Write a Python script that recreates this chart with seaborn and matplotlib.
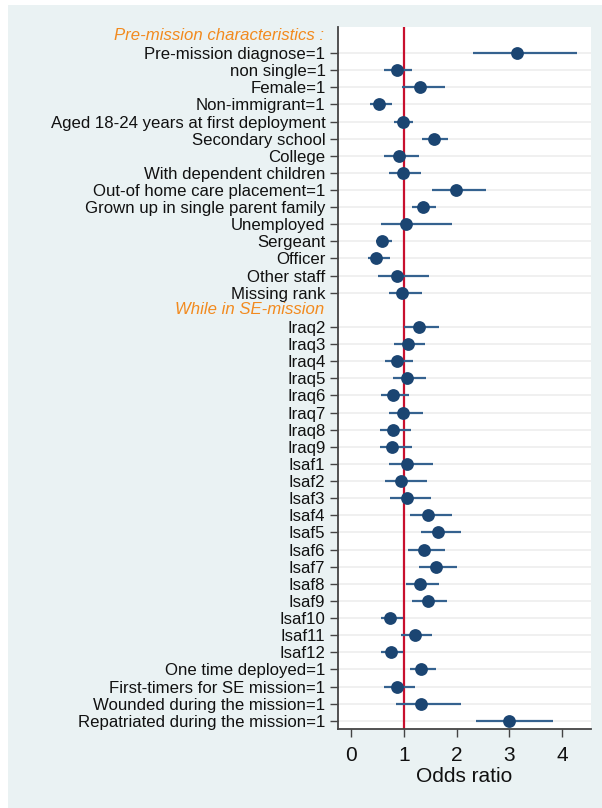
import matplotlib
matplotlib.use("Agg")
import matplotlib.pyplot as plt
from matplotlib.patches import Rectangle
import numpy as np
import pandas as pd
import seaborn as sns

# Section headers
header_pre = "Pre-mission characteristics :"
header_mis = "While in SE-mission"

# Pre-mission characteristics: odds ratios with 95% CI
labels_pre = [
    "Pre-mission diagnose=1", "non single=1", "Female=1", "Non-immigrant=1",
    "Aged 18-24 years at first deployment", "Secondary school", "College",
    "With dependent children", "Out-of home care placement=1",
    "Grown up in single parent family", "Unemployed", "Sergeant", "Officer",
    "Other staff", "Missing rank",
]
or_pre = [3.14, 0.86, 1.30, 0.52, 0.98, 1.57, 0.90, 0.99, 1.98, 1.36, 1.04, 0.59, 0.47, 0.86, 0.97]
lo_pre = [2.31, 0.63, 0.97, 0.35, 0.81, 1.35, 0.63, 0.72, 1.54, 1.16, 0.56, 0.47, 0.31, 0.51, 0.71]
hi_pre = [4.29, 1.15, 1.78, 0.78, 1.18, 1.83, 1.28, 1.33, 2.55, 1.60, 1.92, 0.77, 0.73, 1.47, 1.35]

# While in SE-mission
labels_mis = [
    "Iraq2", "Iraq3", "Iraq4", "Iraq5", "Iraq6", "Iraq7", "Iraq8", "Iraq9",
    "Isaf1", "Isaf2", "Isaf3", "Isaf4", "Isaf5", "Isaf6", "Isaf7", "Isaf8",
    "Isaf9", "Isaf10", "Isaf11", "Isaf12",
    "One time deployed=1", "First-timers for SE mission=1",
    "Wounded during the mission=1", "Repatriated during the mission=1",
]
or_mis = [1.28, 1.07, 0.87, 1.06, 0.79, 0.99, 0.79, 0.78,
          1.05, 0.95, 1.05, 1.45, 1.64, 1.39, 1.60, 1.31, 1.45, 0.73, 1.21, 0.75,
          1.33, 0.87, 1.33, 3.00]
lo_mis = [1.00, 0.81, 0.64, 0.80, 0.57, 0.72, 0.55, 0.54,
          0.72, 0.64, 0.74, 1.12, 1.32, 1.08, 1.28, 1.04, 1.16, 0.57, 0.95, 0.57,
          1.12, 0.63, 0.85, 2.36]
hi_mis = [1.67, 1.41, 1.18, 1.42, 1.09, 1.36, 1.14, 1.15,
          1.55, 1.43, 1.51, 1.91, 2.08, 1.78, 2.01, 1.66, 1.81, 0.99, 1.54, 0.99,
          1.60, 1.21, 2.08, 3.82]

x_ticks = [0, 1, 2, 3, 4]
x_label = "Odds ratio"

sns.set_theme(style="white")
plt.rcParams["font.family"] = ["Liberation Sans", "DejaVu Sans"]

# Row positions: header row, then its items, for each section
pos_pre = list(range(1, 1 + len(labels_pre)))
pos_hdr_mis = pos_pre[-1] + 1
pos_mis = list(range(pos_hdr_mis + 1, pos_hdr_mis + 1 + len(labels_mis)))

df = pd.DataFrame({
    "label": labels_pre + labels_mis,
    "pos": pos_pre + pos_mis,
    "or": or_pre + or_mis,
    "lo": lo_pre + lo_mis,
    "hi": hi_pre + hi_mis,
})

W, H = 602, 808
fig = plt.figure(figsize=(W / 100, H / 100), dpi=100, facecolor="white")
fig.patches.append(Rectangle((8 / W, 0), 1 - 8 / W, 1 - 5 / H,
                             transform=fig.transFigure, facecolor="#eaf2f3",
                             edgecolor="none", zorder=-10))
ax = fig.add_axes([338 / W, 79 / H, (591 - 338) / W, (729 - 27) / H])
ax.set_facecolor("white")

navy = "#1b4572"
ci_col = "#35628f"
red = "#c8102e"
orange = "#f28a1e"

# Row gridlines
for p in df["pos"]:
    ax.axhline(p, color="#eeeeee", lw=1.2, zorder=0)

ax.axvline(1, color=red, lw=1.6, zorder=1)
ax.hlines(df["pos"], df["lo"], df["hi"], color=ci_col, lw=1.6, zorder=2)
sns.scatterplot(data=df, x="or", y="pos", ax=ax, color=navy, s=85,
                edgecolor=navy, linewidth=0, zorder=3, legend=False)

ax.set_xlim(-0.25, 4.55)
ax.set_ylim(pos_mis[-1] + 0.48, -0.52)
ax.set_xticks(x_ticks)
ax.set_xticklabels([str(t) for t in x_ticks], fontsize=15)
ax.set_yticks(df["pos"])
ax.set_yticklabels(df["label"], fontsize=12.1, color="#111111")
ax.set_xlabel(x_label, fontsize=15, labelpad=2, color="#111111")
ax.set_ylabel("")

ax.tick_params(axis="y", direction="out", length=6, width=1, color="#444444",
               pad=3, left=True)
ax.tick_params(axis="x", direction="out", length=6, width=1, color="#444444",
               pad=6, bottom=True, labelcolor="#111111")

for side in ["top", "right"]:
    ax.spines[side].set_visible(False)
for side in ["left", "bottom"]:
    ax.spines[side].set_color("#444444")
    ax.spines[side].set_linewidth(1.3)

# Section headers placed in the label column
lab_trans = matplotlib.transforms.blended_transform_factory(ax.transAxes, ax.transData)
dx = -(338 - 324) / (591 - 338)
for p, txt in [(0, header_pre), (pos_hdr_mis, header_mis)]:
    ax.text(dx, p, txt, transform=lab_trans, ha="right", va="center",
            fontsize=12.1, style="italic", color=orange)

fig.savefig("out.png", dpi=100, facecolor=fig.get_facecolor())
